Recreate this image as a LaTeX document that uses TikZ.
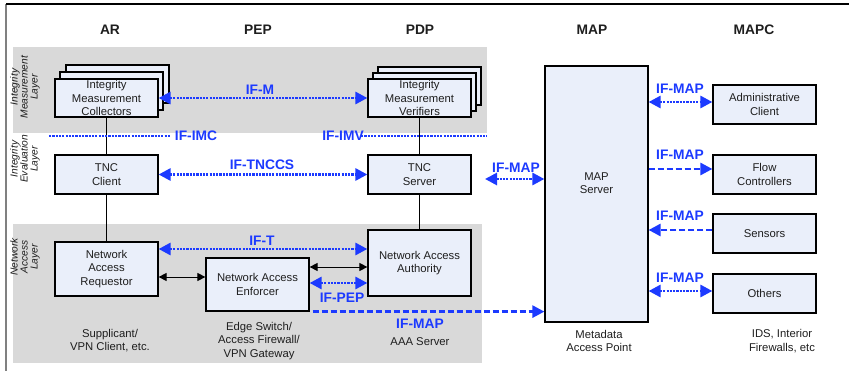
\documentclass[tikz,border=0pt]{standalone}
\usepackage{fontspec}
\setmainfont{Liberation Sans}
\usetikzlibrary{arrows.meta}
\definecolor{ifblue}{RGB}{28,58,255}
\definecolor{boxfill}{RGB}{234,239,250}
\definecolor{bandgray}{RGB}{217,217,217}
\definecolor{txt}{RGB}{30,30,30}
\newcommand\bxfont{\fontsize{11.3}{13.5}\selectfont}
\newcommand\hdfont{\fontsize{13.8}{15}\selectfont\bfseries}
\newcommand\blfont{\fontsize{13.8}{15}\selectfont\bfseries}
\newcommand\lyfont{\fontsize{10.2}{10}\selectfont\itshape}
\begin{document}
\begin{tikzpicture}[x=1pt,y=-1pt,
  box/.style={draw, line width=1.2pt, fill=boxfill, align=center, font=\bxfont, text=txt, inner sep=0pt, minimum width=103pt},
  backbox/.style={draw, line width=1.2pt, fill=boxfill},
  header/.style={font=\hdfont, text=txt},
  iflabel/.style={font=\blfont, text=ifblue, inner sep=0pt},
  caption/.style={font=\bxfont, text=txt, align=center},
  layer/.style={font=\lyfont, text=txt, align=center, rotate=90},
  dotline/.style={ifblue, line width=2.8pt, dash pattern=on 2.2pt off 1.1pt},
  dashline/.style={ifblue, line width=2.6pt, dash pattern=on 6pt off 3pt},
  bluetip/.style={-{Triangle[length=12pt,width=12pt]}},
  bluetips/.style={{Triangle[length=12pt,width=12pt]}-{Triangle[length=12pt,width=12pt]}},
  link/.style={line width=0.9pt, black},
  blackarr/.style={line width=0.9pt, black, {Triangle[length=8pt,width=8pt]}-{Triangle[length=8pt,width=8pt]}}
]
\useasboundingbox (0,0) rectangle (849,371);
% frame
\draw[gray, line width=1.5pt] (6,4) -- (6,371);
\draw[black, line width=1.3pt] (6,4) -- (849,4);
% bands
\fill[bandgray] (13,47) rectangle (487,133);
\fill[bandgray] (13,224) rectangle (482,363);
% headers
\node[header] (hAR) at (110,30) {AR};
\node[header] (hPEP) at (258,30) {PEP};
\node[header] (hPDP) at (420,30) {PDP};
\node[header] (hMAP) at (592,30) {MAP};
\node[header] (hMAPC) at (754,30) {MAPC};
% layer labels
\node[layer] (l1) at (25,87) {Integrity\\Measurement\\Layer};
\node[layer] (l2) at (25,159) {Integrity\\Evaluation\\Layer};
\node[layer] (l3) at (25,257) {Network\\Access\\Layer};
% stacked boxes
\draw[backbox] (66,65) rectangle (169,103);
\draw[backbox] (60,72) rectangle (163,110);
\node[box, minimum height=38pt] (imc) at (106.5,98) {Integrity\\Measurement\\Collectors};
\draw[backbox] (378,67) rectangle (481,105);
\draw[backbox] (373,73) rectangle (476,111);
\node[box, minimum height=38pt] (imv) at (419.5,98) {Integrity\\Measurement\\Verifiers};
% evaluation layer
\node[box, minimum height=39pt] (tncc) at (106.5,174.5) {TNC\\Client};
\node[box, minimum height=39pt] (tncs) at (419.5,174.5) {TNC\\Server};
% network access layer
\node[box, minimum height=54pt] (nar) at (106.5,269) {Network\\Access\\Requestor};
\node[box, minimum height=53pt] (nae) at (257.5,284.5) {Network Access\\Enforcer};
\node[box, minimum height=66pt] (naa) at (419.5,263) {Network Access\\Authority};
% MAP server
\node[box, minimum height=256pt] (map) at (596.5,194) {MAP\\Server\\[8pt]\mbox{}};
% MAPC boxes
\node[box, minimum height=39pt] (admin) at (764.5,104.5) {Administrative\\Client};
\node[box, minimum height=39pt] (flow) at (764.5,174.5) {Flow\\Controllers};
\node[box, minimum height=39pt] (sens) at (764.5,233.5) {Sensors};
\node[box, minimum height=39pt] (oth) at (764.5,293.5) {Others};
% vertical links
\draw[link] (imc.south) -- (tncc.north);
\draw[link] (tncc.south) -- (nar.north);
\draw[link] (imv.south) -- (tncs.north);
\draw[link] (tncs.south) -- (naa.north);
% y levels
\coordinate (yT) at (0,249);
\coordinate (yRE) at (0,277);
\coordinate (yEA) at (0,267);
\coordinate (yPEP) at (0,283);
\coordinate (yAdm) at (0,102);
\coordinate (yFlow) at (0,169);
\coordinate (ySens) at (0,230);
\coordinate (yOth) at (0,291);
\coordinate (yMapL) at (0,179);
% blue interfaces
\draw[dotline, bluetips] (imc.east) -- (imv.west);
\node[iflabel] (lM) at (260,90) {IF-M};
\coordinate (imcA) at (49,136);
\coordinate (imcB) at (170,136);
\draw[dotline] (imcA) -- (imcB);
\node[iflabel] (lIMC) at (196,136) {IF-IMC};
\coordinate (imvA) at (361,136);
\coordinate (imvB) at (487,136);
\draw[dotline] (imvA) -- (imvB);
\node[iflabel] (lIMV) at (343,136) {IF-IMV};
\draw[dotline, bluetips] (tncc.east) -- (tncs.west);
\node[iflabel] (lTNCCS) at (262,165) {IF-TNCCS};
\draw[dotline, bluetips] (nar.east |- yT) -- (naa.west |- yT);
\node[iflabel] (lT) at (262,241) {IF-T};
\draw[blackarr] (nar.east |- yRE) -- (nae.west |- yRE);
\draw[blackarr] (nae.east |- yEA) -- (naa.west |- yEA);
\draw[dotline, bluetips] (nae.east |- yPEP) -- (naa.west |- yPEP);
\node[iflabel] (lPEP) at (342,298) {IF-PEP};
\draw[dashline, bluetip] ([xshift=3pt]nae.south east) -- (map.west |- nae.south east);
\node[iflabel] (lMAPlow) at (420,324) {IF-MAP};
\coordinate (mapL) at (485,179);
\draw[dotline, bluetips] (mapL) -- (map.west |- yMapL);
\node[iflabel] (lMAPleft) at (516,168) {IF-MAP};
% MAPC interfaces
\draw[dotline, bluetips] (map.east |- yAdm) -- (admin.west |- yAdm);
\node[iflabel] (lA) at (680,89) {IF-MAP};
\draw[dashline, bluetip] (map.east |- yFlow) -- (flow.west |- yFlow);
\node[iflabel] (lF) at (680,155) {IF-MAP};
\draw[dashline, bluetip] (sens.west |- ySens) -- (map.east |- ySens);
\node[iflabel] (lS) at (680,216) {IF-MAP};
\draw[dotline, bluetips] (map.east |- yOth) -- (oth.west |- yOth);
\node[iflabel] (lO) at (680,278) {IF-MAP};
% captions
\node[caption] (cAR) at (110,340.5) {Supplicant/\\VPN Client, etc.};
\node[caption] (cPEP) at (259,341) {Edge Switch/\\Access Firewall/\\VPN Gateway};
\node[caption] (cPDP) at (420,342) {AAA Server};
\node[caption] (cMAP) at (599,341) {Metadata\\Access Point};
\node[caption] (cMAPC) at (782,341) {IDS, Interior\\Firewalls, etc};
\end{tikzpicture}
\end{document}
